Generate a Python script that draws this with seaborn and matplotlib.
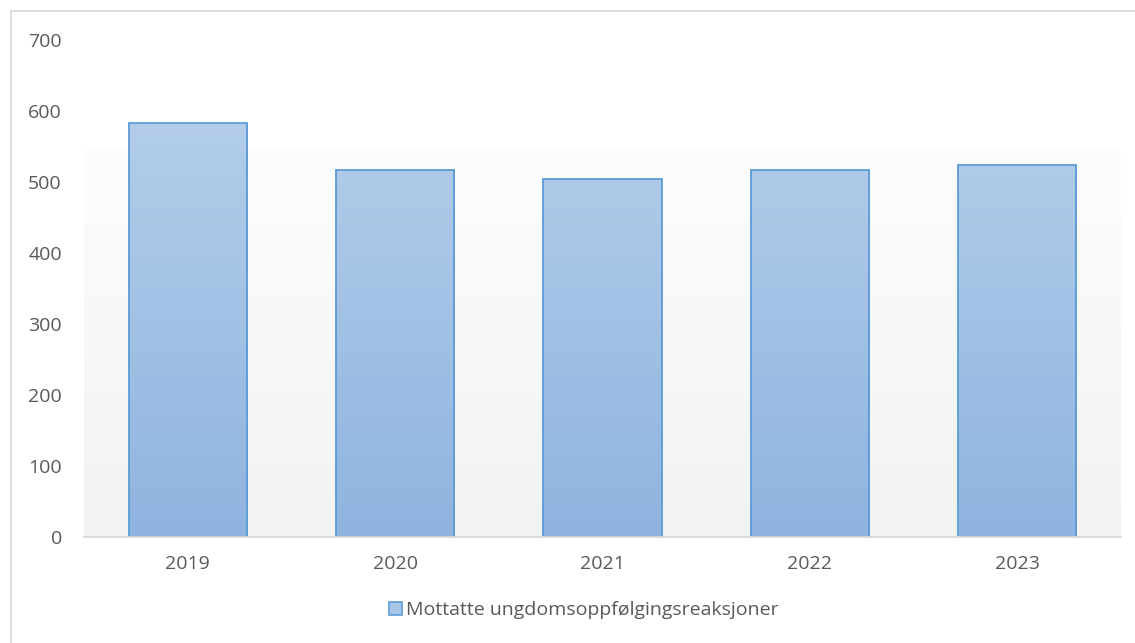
import numpy as np
import pandas as pd
import matplotlib
matplotlib.use("Agg")
import matplotlib.pyplot as plt
import seaborn as sns
from matplotlib.patches import Patch
from matplotlib.lines import Line2D
from matplotlib.colors import LinearSegmentedColormap

years = ["2019", "2020", "2021", "2022", "2023"]
values = [583, 517, 504, 517, 524]
series_name = "Mottatte ungdomsoppfølgingsreaksjoner"

sns.set_theme(style="white")
plt.rcParams["font.family"] = ["Open Sans", "DejaVu Sans"]

df = pd.DataFrame({"year": years, "count": values})

fig = plt.figure(figsize=(11.35, 6.43), dpi=100)
W, H = 1135, 643
ax = fig.add_axes([84 / W, (H - 537) / H, (1121 - 84) / W, (537 - 40) / H])

sns.barplot(data=df, x="year", y="count", ax=ax, width=0.57,
            color="#a9c6e8", edgecolor="#5b9bd5", linewidth=1.3, saturation=1)

ax.set_ylim(0, 700)
ax.set_xlim(-0.5, 4.5)
ax.set_yticks(range(0, 701, 100))
ax.set_xlabel("")
ax.set_ylabel("")

# plot area background gradient (white -> light grey)
bg_cmap = LinearSegmentedColormap.from_list("bg", ["#f2f2f2", "#fdfdfd"])
grad = np.linspace(0, 1, 256).reshape(-1, 1)
ax.imshow(grad, cmap=bg_cmap, origin="lower", aspect="auto",
          extent=[0, 1, 0, (537 - 150) / (537 - 40)], transform=ax.transAxes,
          zorder=0)

# gradient fill on each bar
bar_cmap = LinearSegmentedColormap.from_list("bar", ["#8fb4e0", "#b3cde9"])
for p in ax.patches:
    x0, y0 = p.get_x(), p.get_y()
    w, h = p.get_width(), p.get_height()
    im = ax.imshow(grad, cmap=bar_cmap, origin="lower", aspect="auto",
                   extent=[x0, x0 + w, 0, 700 * 0.83], zorder=1)
    im.set_clip_path(p)
    p.set_facecolor("none")
    p.set_zorder(2)
ax.set_xlim(-0.5, 4.5)
ax.set_ylim(0, 700)

for s in ["top", "right", "left"]:
    ax.spines[s].set_visible(False)
ax.spines["bottom"].set_color("#d9d9d9")
ax.spines["bottom"].set_linewidth(1.3)
ax.spines["bottom"].set_zorder(3)
ax.tick_params(axis="both", length=0, labelsize=14, labelcolor="#595959")
ax.tick_params(axis="y", pad=16)
ax.tick_params(axis="x", pad=13)

handle = Patch(facecolor="#a9c6e8", edgecolor="#5b9bd5", linewidth=1.2)
fig.legend([handle], [series_name], loc="center", bbox_to_anchor=(584 / W, (H - 610) / H),
           frameon=False, fontsize=14, labelcolor="#595959",
           handlelength=0.65, handleheight=0.65, handletextpad=0.25)

# chart border
fig.add_artist(Line2D([10.5 / W, 10.5 / W], [0, (H - 11) / H], color="#d9d9d9", lw=1.3))
fig.add_artist(Line2D([10.5 / W, 1], [(H - 11) / H, (H - 11) / H], color="#d9d9d9", lw=1.3))

fig.savefig("out.png", dpi=100)
